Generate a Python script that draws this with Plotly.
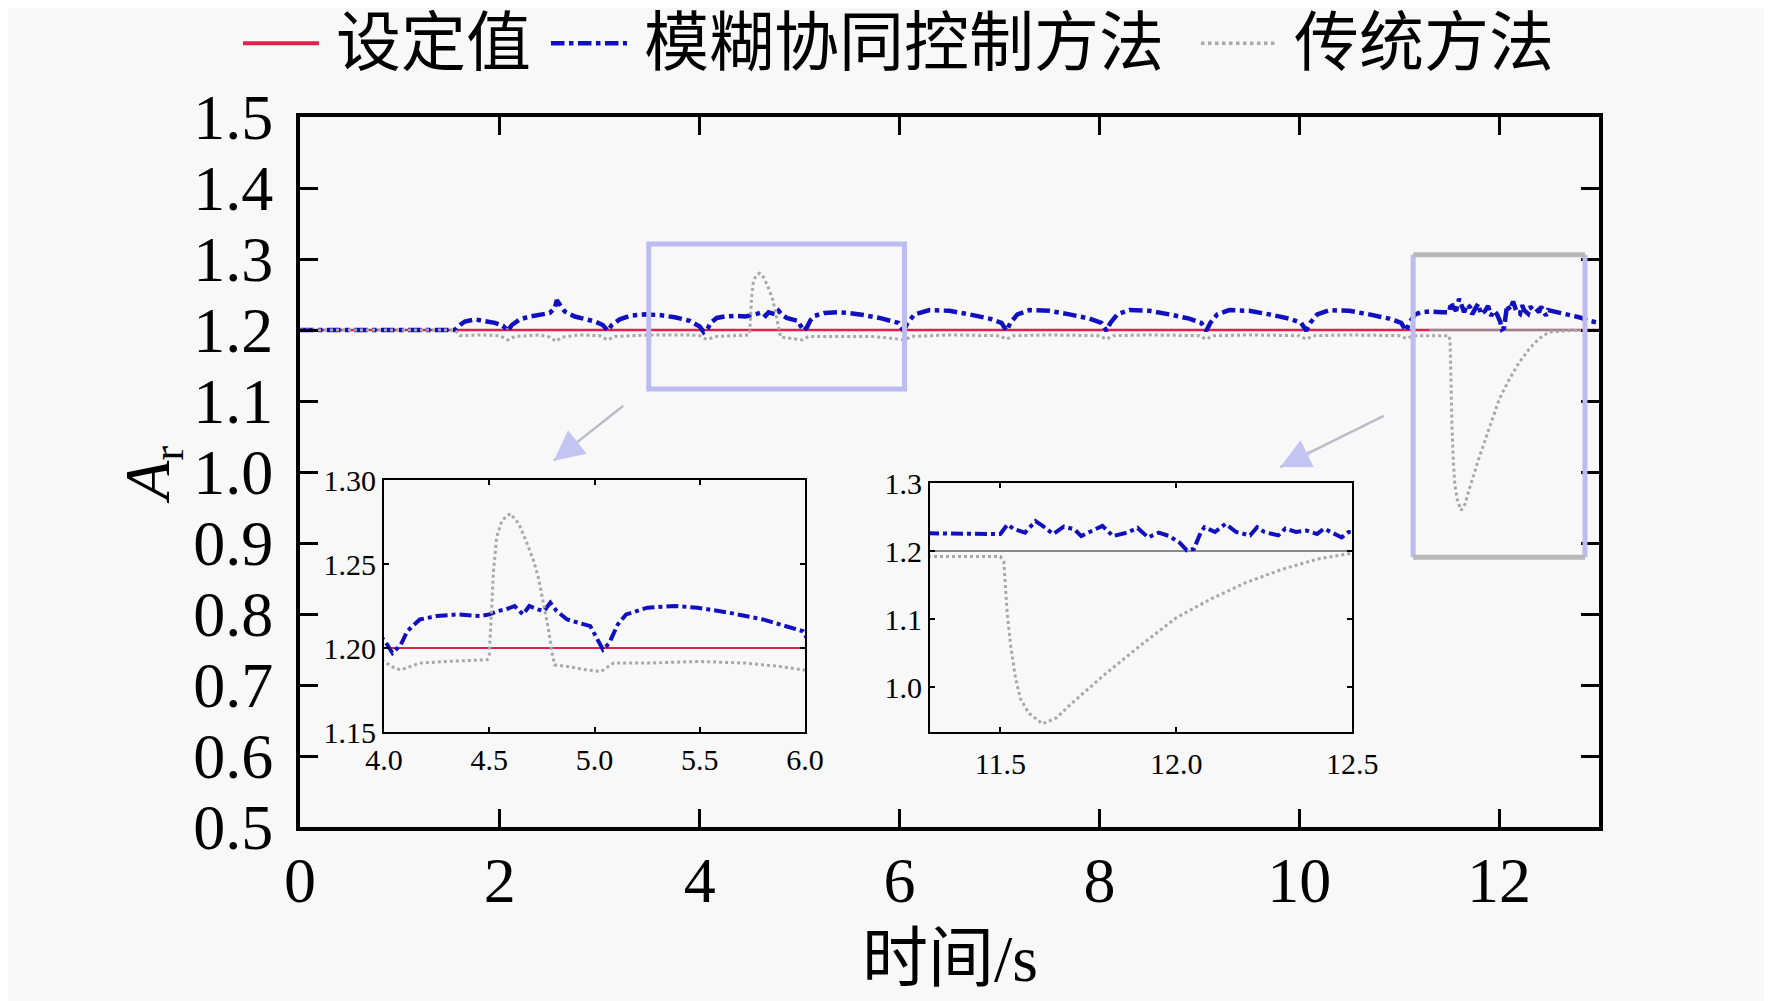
import plotly.graph_objects as go

# time / value readings (s, A_r)
t_setpoint = [0.0, 13.0]
a_setpoint = [1.2, 1.2]

t_ref = [11.3, 13.0]
a_ref = [1.2, 1.2]

t_fuzzy = [
    0.00, 1.55, 1.60, 1.65, 1.75, 1.85, 1.95, 2.03, 2.08, 2.12, 2.20, 2.30, 2.40,
    2.50, 2.55, 2.57, 2.60, 2.65, 2.75, 2.85, 2.95, 3.03, 3.08, 3.12, 3.20, 3.30,
    3.45, 3.60, 3.75, 3.90, 4.00, 4.04, 4.08, 4.11, 4.17, 4.25, 4.35, 4.46, 4.50,
    4.54, 4.58, 4.62, 4.66, 4.69, 4.73, 4.76, 4.79, 4.82, 4.87, 4.93, 4.98, 5.01,
    5.04, 5.07, 5.11, 5.15, 5.25, 5.38, 5.49, 5.64, 5.80, 5.99, 6.04, 6.08, 6.15,
    6.30, 6.50, 6.70, 6.90, 7.02, 7.07, 7.11, 7.18, 7.30, 7.50, 7.70, 7.90, 8.02,
    8.07, 8.11, 8.18, 8.30, 8.50, 8.70, 8.90, 9.02, 9.07, 9.11, 9.18, 9.30, 9.50,
    9.70, 9.90, 10.02, 10.07, 10.11, 10.18, 10.30, 10.50, 10.70, 10.90, 11.02,
    11.07, 11.11, 11.16, 11.22, 11.30, 11.43, 11.50, 11.52, 11.54, 11.57, 11.60,
    11.62, 11.65, 11.68, 11.71, 11.73, 11.76, 11.79, 11.82, 11.86, 11.89, 11.92,
    11.95, 11.98, 12.01, 12.03, 12.05, 12.07, 12.08, 12.11, 12.14, 12.17, 12.21,
    12.23, 12.25, 12.29, 12.31, 12.34, 12.37, 12.40, 12.42, 12.44, 12.47, 12.49,
    12.60, 12.70, 12.80, 12.90, 13.00,
]
a_fuzzy = [
    1.200, 1.200, 1.207, 1.212, 1.215, 1.213, 1.210, 1.206, 1.199, 1.207, 1.215, 1.219, 1.221,
    1.224, 1.231, 1.242, 1.236, 1.226, 1.219, 1.215, 1.212, 1.207, 1.199, 1.207, 1.215, 1.220,
    1.222, 1.221, 1.218, 1.213, 1.205, 1.197, 1.202, 1.210, 1.217, 1.219, 1.220, 1.219, 1.220,
    1.222, 1.223, 1.225, 1.220, 1.225, 1.223, 1.222, 1.227, 1.222, 1.217, 1.215, 1.213, 1.206,
    1.199, 1.203, 1.214, 1.220, 1.224, 1.225, 1.224, 1.221, 1.217, 1.210, 1.199, 1.210, 1.222,
    1.228, 1.227, 1.222, 1.216, 1.210, 1.199, 1.210, 1.222, 1.228, 1.227, 1.222, 1.216, 1.210,
    1.199, 1.210, 1.222, 1.228, 1.227, 1.222, 1.216, 1.210, 1.199, 1.210, 1.222, 1.228, 1.227,
    1.222, 1.216, 1.210, 1.199, 1.210, 1.222, 1.228, 1.227, 1.222, 1.216, 1.210,
    1.199, 1.212, 1.222, 1.225, 1.226, 1.225, 1.225, 1.239, 1.232, 1.227, 1.244,
    1.237, 1.225, 1.236, 1.232, 1.222, 1.230, 1.237, 1.222, 1.227, 1.234, 1.220,
    1.227, 1.222, 1.212, 1.201, 1.203, 1.228, 1.235, 1.228, 1.240, 1.228, 1.223,
    1.235, 1.228, 1.223, 1.233, 1.228, 1.230, 1.225, 1.233, 1.228, 1.220, 1.228,
    1.225, 1.222, 1.218, 1.213, 1.210,
]

t_trad = [
    0.00, 1.55, 1.60, 1.80, 2.00, 2.08, 2.15, 2.40, 2.50, 2.56, 2.62, 2.80, 3.00,
    3.08, 3.15, 3.50, 3.90, 4.00, 4.05, 4.08, 4.17, 4.30, 4.49, 4.50, 4.51, 4.52,
    4.535, 4.56, 4.60, 4.64, 4.68, 4.71, 4.733, 4.757, 4.78, 4.797, 4.81, 4.87,
    4.96, 5.03, 5.09, 5.25, 5.49, 5.72, 5.88, 5.99, 6.05, 6.12, 6.50, 7.00, 7.07,
    7.14, 7.50, 8.00, 8.07, 8.14, 8.50, 9.00, 9.07, 9.14, 9.50, 10.00, 10.07,
    10.14, 10.50, 11.00, 11.07, 11.14, 11.30, 11.50, 11.51, 11.514, 11.519,
    11.529, 11.543, 11.557, 11.58, 11.62, 11.66, 11.70, 11.80, 11.90, 12.00,
    12.10, 12.20, 12.30, 12.40, 12.50, 12.70, 13.00,
]
a_trad = [
    1.200, 1.200, 1.192, 1.193, 1.192, 1.186, 1.191, 1.193, 1.190, 1.184, 1.190, 1.193, 1.192,
    1.186, 1.191, 1.193, 1.193, 1.192, 1.188, 1.187, 1.191, 1.192, 1.193, 1.196, 1.222, 1.246,
    1.266, 1.276, 1.280, 1.274, 1.262, 1.252, 1.242, 1.226, 1.212, 1.198, 1.190, 1.189,
    1.187, 1.186, 1.191, 1.191, 1.192, 1.191, 1.189, 1.187, 1.186, 1.191, 1.193, 1.192, 1.187,
    1.192, 1.193, 1.192, 1.187, 1.192, 1.193, 1.192, 1.187, 1.192, 1.193, 1.192, 1.187,
    1.192, 1.193, 1.192, 1.188, 1.192, 1.192, 1.192, 1.184, 1.151, 1.111,
    1.062, 1.013, 0.983, 0.962, 0.946, 0.955, 0.975, 1.020, 1.062, 1.102,
    1.130, 1.154, 1.173, 1.188, 1.197, 1.199, 1.200,
]

main_xticks = [0, 2, 4, 6, 8, 10, 12]
main_yticks = [0.5, 0.6, 0.7, 0.8, 0.9, 1.0, 1.1, 1.2, 1.3, 1.4, 1.5]
in1_xticks = [4.0, 4.5, 5.0, 5.5, 6.0]
in1_yticks = [1.15, 1.20, 1.25, 1.30]
in2_xticks = [11.5, 12.0, 12.5]
in2_yticks = [1.0, 1.1, 1.2, 1.3]

legend_names = ["设定值", "模糊协同控制方法", "传统方法"]

BG = "#f8f8f8"
RED = "#e3204d"
BLUE = "#1010c0"
GRAY = "#a8a8a8"
PURPLE = "#bcbcf0"
FONT = "Liberation Serif, Noto Sans CJK SC"

fig = go.Figure()

# main axes
fig.add_trace(go.Scatter(x=t_setpoint, y=a_setpoint, mode="lines", name=legend_names[0],
                         line=dict(color=RED, width=2.5)))
fig.add_trace(go.Scatter(x=t_ref, y=a_ref, mode="lines",
                         line=dict(color="#8a8a8a", width=2)))
fig.add_trace(go.Scatter(x=t_fuzzy, y=a_fuzzy, mode="lines", name=legend_names[1],
                         line=dict(color=BLUE, width=4.5, dash="dashdot")))
fig.add_trace(go.Scatter(x=t_trad, y=a_trad, mode="lines", name=legend_names[2],
                         line=dict(color=GRAY, width=3, dash="dot")))

# inset 1 (4-6 s)
fig.add_trace(go.Scatter(x=t_setpoint, y=a_setpoint, mode="lines",
                         line=dict(color=RED, width=2), xaxis="x2", yaxis="y2"))
fig.add_trace(go.Scatter(x=t_fuzzy, y=a_fuzzy, mode="lines",
                         line=dict(color=BLUE, width=4, dash="dashdot"), xaxis="x2", yaxis="y2"))
fig.add_trace(go.Scatter(x=t_trad, y=a_trad, mode="lines",
                         line=dict(color=GRAY, width=3, dash="dot"), xaxis="x2", yaxis="y2"))

# inset 2 (11.3-12.5 s)
fig.add_trace(go.Scatter(x=t_ref, y=a_ref, mode="lines",
                         line=dict(color="#8a8a8a", width=2), xaxis="x3", yaxis="y3"))
fig.add_trace(go.Scatter(x=t_fuzzy, y=a_fuzzy, mode="lines",
                         line=dict(color=BLUE, width=4, dash="dashdot"), xaxis="x3", yaxis="y3"))
fig.add_trace(go.Scatter(x=t_trad, y=a_trad, mode="lines",
                         line=dict(color=GRAY, width=3, dash="dot"), xaxis="x3", yaxis="y3"))

main_ax = dict(showline=True, linewidth=4, linecolor="black", mirror="ticks",
               ticks="inside", ticklen=18, tickwidth=3, tickcolor="black",
               showgrid=False, zeroline=False, tickfont=dict(size=64, family=FONT))
inset_ax = dict(showline=True, linewidth=2, linecolor="black", mirror="ticks",
                ticks="inside", ticklen=5, tickwidth=1.5, tickcolor="black",
                showgrid=False, zeroline=False, tickfont=dict(size=30, family=FONT))

# page body has an 8px margin, so the figure is 8px smaller than the window
fig.update_layout(
    width=1764, height=993,
    margin=dict(l=292, r=173, t=109, b=174, autoexpand=False),
    paper_bgcolor=BG, plot_bgcolor=BG,
    font=dict(family=FONT, color="black"),
    showlegend=False,
    xaxis=dict(main_ax, domain=[0, 1], range=[0, 13], tickvals=main_xticks, anchor="y",
               ticklabelstandoff=-6),
    yaxis=dict(main_ax, domain=[0, 1], range=[0.5, 1.5], tickvals=main_yticks, anchor="x",
               tickformat=".1f", ticklabelstandoff=10),
    xaxis2=dict(inset_ax, domain=[0.0647, 0.3888], range=[4.0, 6.0], tickvals=in1_xticks,
                tickformat=".1f", anchor="y2"),
    yaxis2=dict(inset_ax, domain=[0.1338, 0.4887], range=[1.15, 1.30], tickvals=in1_yticks,
                tickformat=".2f", anchor="x2"),
    xaxis3=dict(inset_ax, domain=[0.485, 0.810], range=[11.3, 12.5], tickvals=in2_xticks,
                tickformat=".1f", anchor="y3", ticklabelstandoff=4),
    yaxis3=dict(inset_ax, domain=[0.1338, 0.4845], range=[0.934, 1.3], tickvals=in2_yticks,
                tickformat=".1f", anchor="x3"),
)

# legend drawn by hand so the line samples are as long as in the original
legend_styles = [
    dict(color=RED, width=4, dash="solid"),
    dict(color=BLUE, width=4.5, dash="dashdot"),
    dict(color=GRAY, width=3.5, dash="dot"),
]
legend_x0 = [-0.0439, 0.1932, 0.6936]
for name, style, x0 in zip(legend_names, legend_styles, legend_x0):
    fig.add_shape(type="line", xref="paper", yref="paper", x0=x0, x1=x0 + 0.0585,
                  y0=1.104, y1=1.104, line=style)
    fig.add_annotation(text=name, xref="paper", yref="paper", x=x0 + 0.070, y=1.104,
                       xanchor="left", yanchor="middle", showarrow=False,
                       font=dict(size=65, family=FONT))

# zoom boxes on the main axes
fig.add_shape(type="rect", xref="x", yref="y", x0=3.49, x1=6.05, y0=1.117, y1=1.321,
              line=dict(color=PURPLE, width=5))
fig.add_shape(type="line", xref="x", yref="y", x0=11.14, x1=11.14, y0=0.880, y1=1.306,
              line=dict(color=PURPLE, width=5))
fig.add_shape(type="line", xref="x", yref="y", x0=12.86, x1=12.86, y0=0.880, y1=1.306,
              line=dict(color=PURPLE, width=5))
fig.add_shape(type="line", xref="x", yref="y", x0=11.14, x1=12.86, y0=1.306, y1=1.306,
              line=dict(color="#b8b8b8", width=5))
fig.add_shape(type="line", xref="x", yref="y", x0=11.14, x1=12.86, y0=0.880, y1=0.880,
              line=dict(color="#b8b8b8", width=5))

# pointer arrows: grey shaft + lilac head
for hx, hy, ax, ay in [(2.54, 1.016, 71, -56), (9.81, 1.007, 105, -52)]:
    fig.add_annotation(x=hx, y=hy, xref="x", yref="y", ax=ax, ay=ay, text="",
                       showarrow=True, arrowhead=0, arrowwidth=2.5, arrowcolor="#bcbcc8")
    fig.add_annotation(x=hx, y=hy, xref="x", yref="y", ax=ax * 0.3, ay=ay * 0.3, text="",
                       showarrow=True, arrowhead=2, arrowsize=1.5, arrowwidth=4,
                       arrowcolor="#c4c4f2")

# axis titles
fig.add_annotation(text="<i>A</i><sub>r</sub>", xref="paper", yref="paper",
                   x=-0.114, y=0.496, xanchor="center", yanchor="middle", textangle=-90,
                   showarrow=False, font=dict(size=64, family=FONT))
fig.add_annotation(text="时间/s", xref="paper", yref="paper", x=0.5, y=-0.185,
                   xanchor="center", yanchor="middle", showarrow=False,
                   font=dict(size=66, family=FONT))

fig.write_html("out.html")
